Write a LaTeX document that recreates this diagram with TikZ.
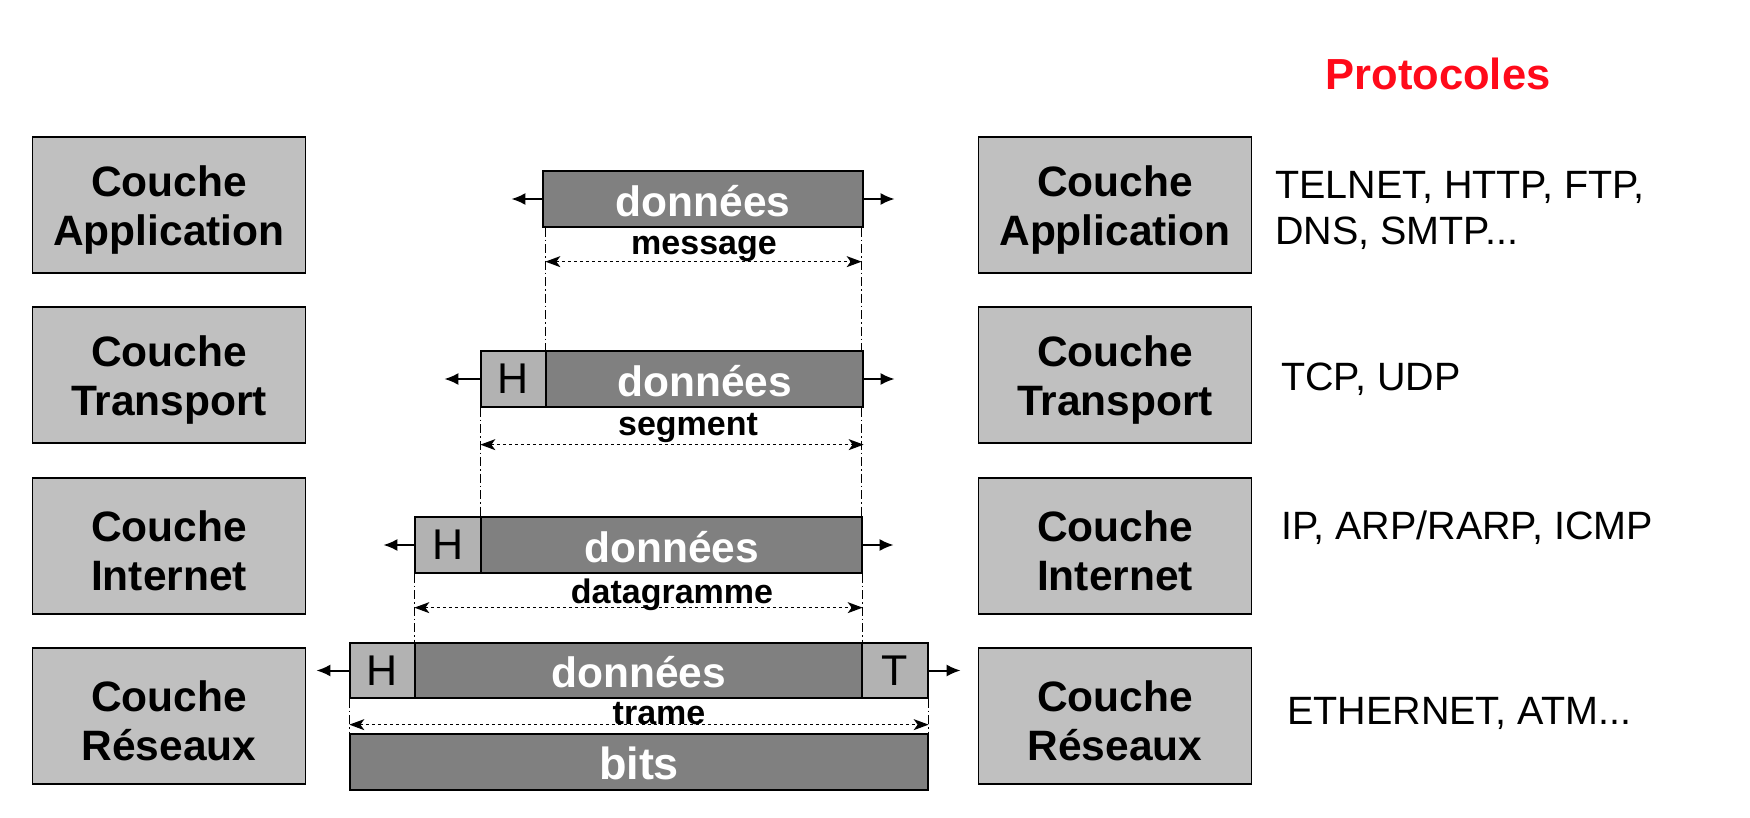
\documentclass[tikz,border=0pt]{standalone}
\usepackage{fontspec}
\setmainfont{Liberation Sans}
\usetikzlibrary{arrows.meta}
\definecolor{couchegray}{HTML}{C0C0C0}
\definecolor{hdrgray}{HTML}{B2B2B2}
\definecolor{datagray}{HTML}{808080}
\definecolor{protored}{HTML}{FF0A1A}
\newcommand\cstrut{\rule{0pt}{40pt}}
\begin{document}
\begin{tikzpicture}[x=1pt,y=-1pt,
  couche/.style={draw=black, line width=1.3pt, fill=couchegray, minimum width=273pt,
    minimum height=136pt, align=center, inner sep=0pt,
    font=\fontsize{42.5}{49}\selectfont\bfseries},
  databox/.style={draw=black, line width=1.3pt, fill=datagray, minimum height=56pt,
    inner sep=0pt, text=white, font=\fontsize{42.5}{44}\selectfont\bfseries,
    execute at begin node={\rule{0pt}{35pt}}},
  hdrbox/.style={draw=black, line width=1.3pt, fill=hdrgray, minimum height=56pt,
    minimum width=65pt, inner sep=0pt, font=\fontsize{43}{44}\selectfont},
  pdulabel/.style={inner sep=0pt, font=\fontsize{34}{36}\selectfont\bfseries},
  proto/.style={inner sep=0pt, anchor=base west, align=left,
    font=\fontsize{39.5}{46}\selectfont},
  outarrow/.style={line width=2pt, -{Latex[length=14pt,width=12pt]}},
  dimarrow/.style={line width=1.4pt, dash pattern=on 3pt off 3pt,
    {Stealth[length=15pt,width=11pt,inset=4pt]}-{Stealth[length=15pt,width=11pt,inset=4pt]}},
  guide/.style={line width=1.3pt, dash pattern=on 9pt off 3pt on 1.5pt off 3pt}
]
\useasboundingbox (0,0) rectangle (1750,818);

% left layer boxes
\node[couche] (lapp) at (169,205) {\cstrut Couche\\Application};
\node[couche] (ltr)  at (169,375) {\cstrut Couche\\Transport};
\node[couche] (lint) at (169,546) {\cstrut Couche\\Internet};
\node[couche] (lres) at (169,716) {\cstrut Couche\\Réseaux};
% right layer boxes
\node[couche] (rapp) at (1115,205) {\cstrut Couche\\Application};
\node[couche] (rtr)  at (1115,375) {\cstrut Couche\\Transport};
\node[couche] (rint) at (1115,546) {\cstrut Couche\\Internet};
\node[couche] (rres) at (1115,716) {\cstrut Couche\\Réseaux};

% application data
\node[databox, minimum width=320pt] (appd) at (703,199) {données};
% transport
\node[hdrbox] (trh) at (513.5,379) {H};
\node[databox, minimum width=317pt] (trd) at (704.5,379) {données};
% internet
\node[hdrbox, minimum width=66pt] (inh) at (448,545) {H};
\node[databox, minimum width=381pt] (ind) at (671.5,545) {données};
% reseaux
\node[hdrbox, minimum height=55pt] (reh) at (382.5,670.5) {H};
\node[databox, minimum width=447pt, minimum height=55pt] (red) at (638.5,670.5) {données};
\node[hdrbox, minimum width=66pt, minimum height=55pt] (ret) at (895,670.5) {T};
% bits
\node[databox, minimum width=578pt, font=\fontsize{45}{46}\selectfont\bfseries] (bits) at (639,762) {bits};

% outward arrows
\draw[outarrow] (appd.west) -- ++(-31,0);
\draw[outarrow] (appd.east) -- ++(31,0);
\draw[outarrow] (trh.west) -- ++(-36,0);
\draw[outarrow] (trd.east) -- ++(31,0);
\draw[outarrow] (inh.west) -- ++(-31,0);
\draw[outarrow] (ind.east) -- ++(31,0);
\draw[outarrow] (reh.west) -- ++(-33,0);
\draw[outarrow] (ret.east) -- ++(32,0);

% guide lines
\draw[guide] ([xshift=3pt]appd.south west) -- ([xshift=3pt]appd.south west |- trd.north);
\draw[guide] ([xshift=-2pt]appd.south east) -- ([xshift=-2pt]appd.south east |- trd.north);
\draw[guide] (trh.south west) -- (trh.south west |- ind.north);
\draw[guide] ([xshift=-2pt]trd.south east) -- ([xshift=-2pt]trd.south east |- ind.north);
\draw[guide] (inh.south west) -- (inh.south west |- red.north);
\draw[guide] (ind.south east) -- (ind.south east |- red.north);
\draw[guide] (reh.south west) -- (reh.south west |- bits.north);
\draw[guide] (ret.south east) -- (ret.south east |- bits.north);

% dimension arrows and labels
\draw[dimarrow] ([xshift=3pt,yshift=-34pt]appd.south west) -- ([xshift=-2pt,yshift=-34pt]appd.south east);
\node[pdulabel] (lmsg) at (704,249) {message};
\draw[dimarrow] ([yshift=-37pt]trh.south west) -- ([yshift=-37pt]trd.south east);
\node[pdulabel] (lseg) at (688,428) {segment};
\draw[dimarrow] ([yshift=-34pt]inh.south west) -- ([yshift=-34pt]ind.south east);
\node[pdulabel] (ldg) at (672,595) {datagramme};
\draw[dimarrow] ([yshift=-26pt]reh.south west) -- ([yshift=-26pt]ret.south east);
\node[pdulabel] (ltrame) at (659,714) {trame};

% protocols
\node[inner sep=0pt, anchor=base, text=protored, font=\fontsize{43.5}{46}\selectfont\bfseries] (ptitle) at (1438,90) {Protocoles};
\node[proto] (papp) at (1275,245) {TELNET, HTTP, FTP,\\DNS, SMTP...};
\node[proto] (ptr) at (1281,390) {TCP, UDP};
\node[proto] (pint) at (1281,539) {IP, ARP/RARP, ICMP};
\node[proto] (pres) at (1287,724) {ETHERNET, ATM...};
\end{tikzpicture}
\end{document}
